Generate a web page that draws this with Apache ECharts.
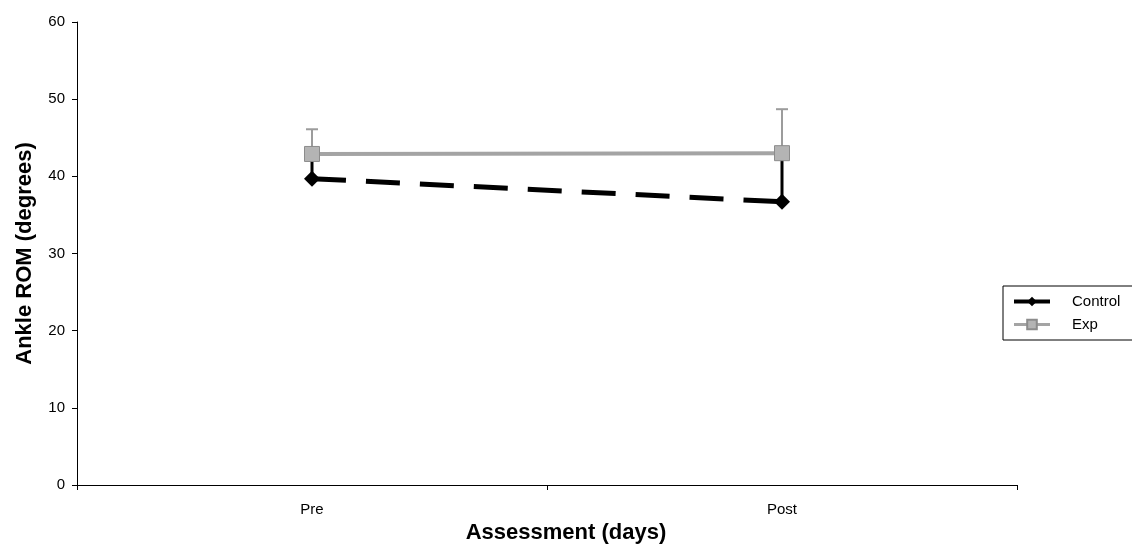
<!DOCTYPE html>
<html>
<head>
<meta charset="utf-8">
<script src="https://cdn.jsdelivr.net/npm/echarts@6/dist/echarts.min.js"></script>
<style>
  html, body { margin: 0; padding: 0; background: #fff; }
  #chart { width: 1132px; height: 553px; }
</style>
</head>
<body>
<div id="chart"></div>
<script>
// assessment points
var categories = ['Pre', 'Post'];
// mean ankle ROM (degrees)
var controlValues = [39.7, 36.7];
var expValues = [42.9, 43.0];
// upper error bars (SD)
var controlErr = [3.3, 6.3];
var expErr = [3.2, 5.7];

var FONT = '"Liberation Sans", Arial, sans-serif';

// vertical error bar drawn from value up to value+err, with a cap on top
function errorBars(values, errs, color, width, z) {
    var data = values.map(function (v, i) { return [i, v, v + errs[i]]; });
    return {
        type: 'custom',
        z: z,
        silent: true,
        data: data,
        renderItem: function (params, api) {
            var lo = api.coord([api.value(0), api.value(1)]);
            var hi = api.coord([api.value(0), api.value(2)]);
            var style = { stroke: color, lineWidth: width };
            return {
                type: 'group',
                children: [
                    { type: 'line', shape: { x1: lo[0], y1: lo[1], x2: hi[0], y2: hi[1] }, style: style },
                    { type: 'line', shape: { x1: hi[0] - 6, y1: hi[1], x2: hi[0] + 6, y2: hi[1] }, style: style }
                ]
            };
        }
    };
}

var myChart = echarts.init(document.getElementById('chart'));
var option = {
    backgroundColor: '#fff',
    animation: false,
    grid: { left: 77, right: 115, top: 22, bottom: 68 },
    legend: {
        orient: 'vertical',
        left: 1003,
        top: 286,
        data: [
            { name: 'Control', lineStyle: { type: 'solid', width: 4 } },
            { name: 'Exp', lineStyle: { width: 3 } }
        ],
        itemWidth: 36,
        itemHeight: 12,
        itemGap: 8,
        borderColor: '#000',
        borderWidth: 1,
        borderRadius: 0,
        padding: [8, 60, 8, 9],
        textStyle: { fontFamily: FONT, fontSize: 15, color: '#000', padding: [0, 0, 0, 17] }
    },
    xAxis: {
        type: 'category',
        data: categories,
        boundaryGap: true,
        name: 'Assessment (days)',
        nameLocation: 'middle',
        nameGap: 36,
        nameTextStyle: { fontFamily: FONT, fontSize: 22, fontWeight: 'bold', color: '#000', padding: [0, 0, 0, 38] },
        axisLine: { lineStyle: { color: '#000', width: 1 } },
        axisTick: { show: true, length: 5, lineStyle: { color: '#000' } },
        axisLabel: { fontFamily: FONT, fontSize: 15, color: '#000', margin: 17 },
        splitLine: { show: false }
    },
    yAxis: {
        type: 'value',
        min: 0,
        max: 60,
        interval: 10,
        name: 'Ankle ROM (degrees)',
        nameLocation: 'middle',
        nameGap: 41,
        nameTextStyle: { fontFamily: FONT, fontSize: 22, fontWeight: 'bold', color: '#000' },
        axisLine: { show: true, lineStyle: { color: '#000', width: 1 } },
        axisTick: { show: true, length: 5, lineStyle: { color: '#000' } },
        axisLabel: { fontFamily: FONT, fontSize: 15, color: '#000', margin: 12 },
        splitLine: { show: false }
    },
    series: [
        errorBars(controlValues, controlErr, '#000', 3, 1),
        {
            name: 'Control',
            type: 'line',
            z: 2,
            data: controlValues,
            symbol: 'diamond',
            symbolSize: 16,
            itemStyle: { color: '#000' },
            lineStyle: { color: '#000', width: 5, type: [34, 20] }
        },
        errorBars(expValues, expErr, '#9c9c9c', 2, 3),
        {
            name: 'Exp',
            type: 'line',
            z: 4,
            data: expValues,
            symbol: 'rect',
            symbolSize: 15,
            itemStyle: { color: '#b4b4b4', borderColor: '#8c8c8c', borderWidth: 1 },
            lineStyle: { color: '#a4a4a4', width: 4 }
        }
    ]
};
myChart.setOption(option);
window.addEventListener('resize', function () {
    myChart.resize();
});
</script>
</body>
</html>
